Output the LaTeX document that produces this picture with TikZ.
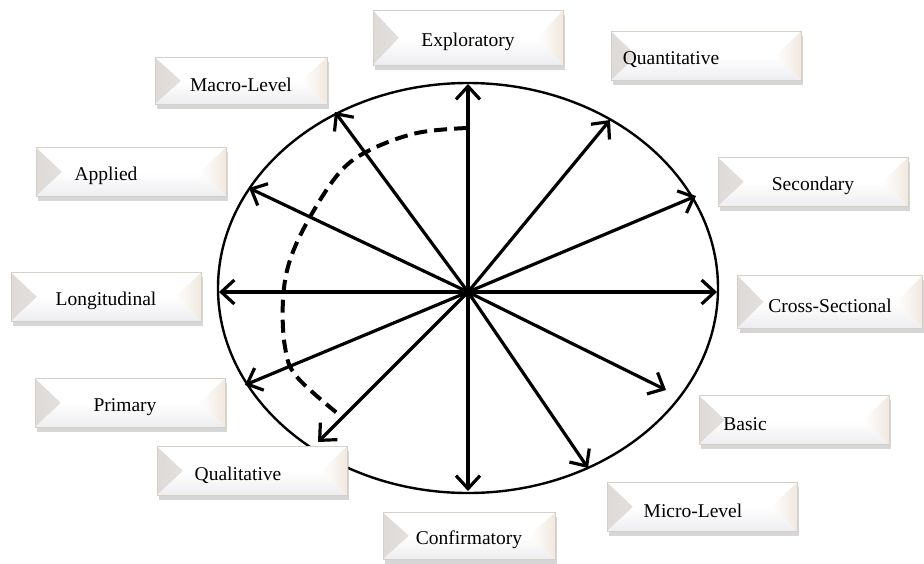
\documentclass[tikz,border=0pt]{standalone}
\usepackage{fontspec}
\setmainfont{Liberation Serif}
\usetikzlibrary{arrows.meta,shadows}

\definecolor{boxedge}{HTML}{D6CFC8}
\definecolor{bevelleft}{HTML}{DEDAD7}
\definecolor{bevelright}{HTML}{F1E8DF}
\definecolor{bevelbottom}{HTML}{EDEDF0}

\tikzset{
  catbox/.style n args={2}{rectangle, draw=boxedge, line width=0.8pt, fill=white,
    minimum width=190pt, minimum height=49pt, inner sep=0pt,
    drop shadow={shadow xshift=2pt, shadow yshift=-4pt, fill=black!40, opacity=0.4},
    path picture={
      \fill[left color=bevelleft, right color=white]
        (path picture bounding box.north west) -- ([xshift=26pt]path picture bounding box.west)
        -- (path picture bounding box.south west) -- cycle;
      \fill[left color=white, right color=bevelright]
        (path picture bounding box.north east) -- ([xshift=-26pt]path picture bounding box.east)
        -- (path picture bounding box.south east) -- cycle;
      \fill[top color=white, bottom color=bevelbottom]
        (path picture bounding box.south west) -- ([xshift=26pt]path picture bounding box.west)
        -- ([xshift=-26pt]path picture bounding box.east) -- (path picture bounding box.south east) -- cycle;
    },
    label={[font=\fontsize{19.5}{22}\selectfont, xshift=#2, yshift=-4pt]center:#1}},
  spoke/.style={line width=3.2pt, -{Straight Barb[length=13pt,width=24pt]}},
  rim/.style={line width=2.4pt},
  dashline/.style={line width=4pt, dash pattern=on 13pt off 7pt},
}

\begin{document}
\begin{tikzpicture}[x=1pt, y=-1pt]
\useasboundingbox (0,0) rectangle (924,563);

% outer ring
\draw[rim] (468,288) ellipse [x radius=250pt, y radius=205pt];

% spokes
\coordinate (c) at (468,292);
\foreach \name/\px/\py in {tipN/468/84, tipS/468/491, tipW/219/292, tipE/717/292,
    tipMacro/335/112, tipApplied/249/188, tipPrimary/245/385, tipQual/318/442,
    tipQuant/610/120, tipSec/696/196, tipBasic/666/390, tipMicro/588/468}
  \coordinate (\name) at (\px,\py);
\foreach \name in {tipN, tipS, tipW, tipE, tipMacro, tipApplied, tipPrimary, tipQual,
    tipQuant, tipSec, tipBasic, tipMicro}
  \draw[spoke] (c) -- (\name);

% dashed arc
\draw[dashline] plot[smooth, tension=0.6] coordinates {(467,128) (417,133) (370,150)
  (340,172) (310,217) (290,260) (283,300) (285,347) (297,377) (342,417)};

% labels
\node[catbox={Exploratory}{0pt}, minimum height=55pt] (exploratory) at (468,38) {};
\node[catbox={Macro-Level}{0pt}, minimum width=172pt, minimum height=47pt] (macro) at (241,81) {};
\node[catbox={Quantitative}{-35pt}] (quantitative) at (706,56) {};
\node[catbox={Secondary}{0pt}] (secondary) at (813,182) {};
\node[catbox={Cross-Sectional}{0pt}, minimum width=185pt, minimum height=53pt] (crosssec) at (830,302) {};
\node[catbox={Basic}{-49pt}] (basic) at (794,420) {};
\node[catbox={Micro-Level}{-9pt}] (micro) at (702,507) {};
\node[catbox={Confirmatory}{0pt}, minimum width=172pt, minimum height=47pt] (confirmatory) at (469,536) {};
\node[catbox={Qualitative}{-14pt}] (qualitative) at (252,471) {};
\node[catbox={Primary}{-5pt}] (primary) at (130,403) {};
\node[catbox={Longitudinal}{0pt}] (longitudinal) at (106,297) {};
\node[catbox={Applied}{-25pt}] (applied) at (131,172) {};
\end{tikzpicture}
\end{document}
